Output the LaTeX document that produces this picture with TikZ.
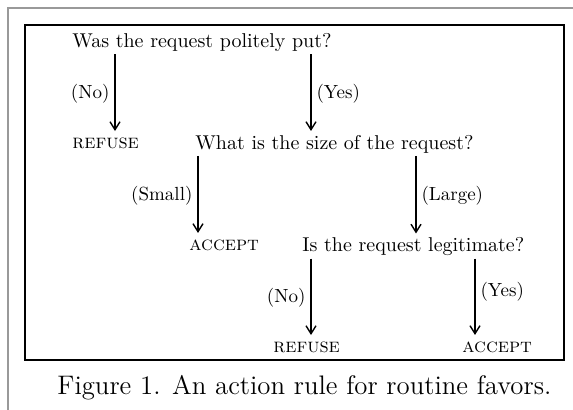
\documentclass[tikz,border=0pt]{standalone}
\usetikzlibrary{arrows.meta,calc}
\definecolor{FrameClr}{rgb}{0.6,0.6,0.6}
\tikzset{
  question/.style={anchor=base west,inner sep=1pt,font=\fontsize{10}{12}\selectfont},
  verdict/.style={anchor=base west,inner xsep=0pt,inner ysep=2.5pt,font=\fontsize{10}{12}\selectfont\scshape},
  answer/.style={inner sep=2.5pt,font=\fontsize{9.5}{11}\selectfont},
  branch/.style={line width=.55pt,-{Straight Barb[length=4pt,width=5pt,line width=.7pt]},shorten >=1pt}
}

\begin{document}
\begin{tikzpicture}[x=.5pt,y=-.5pt]
\useasboundingbox (0,0) rectangle (573,410);
\draw[FrameClr,line width=1pt] (8,410) -- (8,8) -- (573,8);
\draw[line width=.8pt] (25,25) rectangle (564,360);

\node[question] (Q1) at (70,48) {Was the request politely put?};
\node[question] (Q2) at (193,149.5) {What is the size of the request?};
\node[question] (Q3) at (300,252) {Is the request legitimate?};

\node[verdict] (R1) at (72,149) {refuse};
\node[verdict] (A1) at (189,251) {accept};
\node[verdict] (R2) at (273,353) {refuse};
\node[verdict] (A2) at (462,353) {accept};

\node[anchor=base west,inner sep=0pt,font=\fontsize{13.4}{16}\selectfont] (Cap) at (57,395) {Figure 1. An action rule for routine favors.};

\coordinate (c1) at (115,0);
\coordinate (c2) at (311,0);
\coordinate (c3) at (198,0);
\coordinate (c4) at (416,0);
\coordinate (c5) at (311,0);
\coordinate (c6) at (475,0);

\draw[branch] (c1 |- Q1.south) -- node[answer,left]{(No)} (c1 |- R1.north);
\draw[branch] (c2 |- Q1.south) -- node[answer,right]{(Yes)} (c2 |- Q2.north);
\draw[branch] (c3 |- Q2.south) -- node[answer,left]{(Small)} (c3 |- A1.north);
\draw[branch] (c4 |- Q2.south) -- node[answer,right]{(Large)} (c4 |- Q3.north);
\draw[branch] (c5 |- Q3.south) -- node[answer,left]{(No)} (c5 |- R2.north);
\draw[branch] (c6 |- Q3.south) -- node[answer,right,pos=.42]{(Yes)} (c6 |- A2.north);

\end{tikzpicture}
\end{document}
